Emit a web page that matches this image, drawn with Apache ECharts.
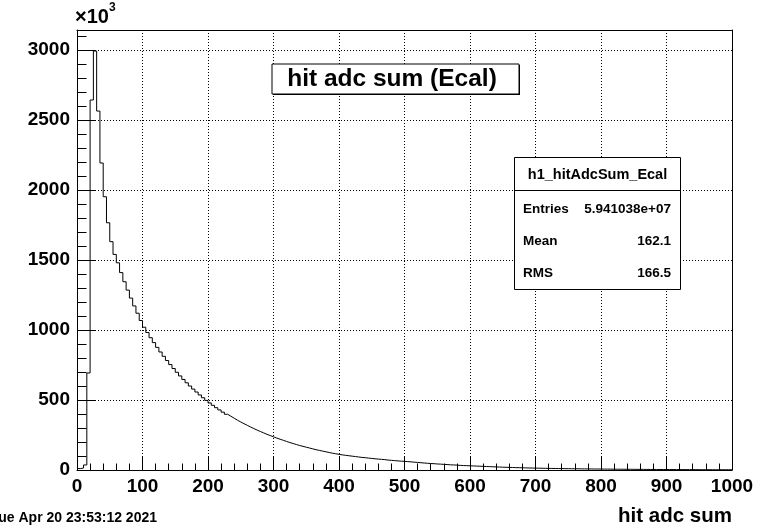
<!DOCTYPE html>
<html>
<head>
<meta charset="utf-8">
<script src="https://cdn.jsdelivr.net/npm/echarts@6/dist/echarts.min.js"></script>
<style>
  html, body { margin: 0; padding: 0; background: #fff; }
  #chart { width: 757px; height: 528px; }
</style>
</head>
<body>
<div id="chart"></div>
<script>
// Histogram h1_hitAdcSum_Ecal: 200 bins of width 5 over [0, 1000).
// Bin contents in units of 10^3 entries.
const binWidth = 5;
const binCounts = [
  10, 14, 36, 693, 2643, 2993, 2564, 2193, 1952, 1766,
  1631, 1540, 1480, 1410, 1345, 1285, 1228, 1172, 1120, 1068,
  1020, 982, 945, 910, 876, 843, 812, 782, 753, 725,
  698, 672, 647, 623, 600, 578, 557, 536, 516, 497,
  479, 462, 445, 429, 413, 398, 384, 370, 356, 343,
  331, 319, 307, 296, 285, 275, 265, 255, 246, 237,
  228, 220, 212, 204, 196, 189, 182, 175, 169, 163,
  157, 151, 145, 140, 135, 130, 125, 120, 116, 112,
  108, 105, 102, 99, 96, 93, 90, 88, 85, 83,
  80, 78, 76, 74, 71, 69, 67, 65, 63, 62,
  60, 58, 56, 54, 52, 50, 48, 46, 45, 43,
  42, 40, 39, 37, 36, 35, 33, 32, 31, 30,
  29, 28, 27, 26, 25, 24, 23, 22, 21, 20,
  19.5, 18.5, 18, 17, 16.5, 16, 15, 14.5, 14, 13.5,
  13, 12.5, 12, 11.6, 11.2, 10.8, 10.4, 10, 9.7, 9.4,
  9.1, 8.8, 8.5, 8.2, 7.9, 7.6, 7.4, 7.1, 6.9, 6.7,
  6.5, 6.3, 6.1, 5.9, 5.7, 5.5, 5.3, 5.1, 5.0, 4.8,
  4.6, 4.5, 4.3, 4.2, 4.0, 3.9, 3.8, 3.6, 3.5, 3.4,
  3.3, 3.2, 3.1, 3.0, 2.9, 2.8, 2.7, 2.6, 2.5, 2.4,
  2.3, 2.2, 2.2, 2.1, 2.0, 2.0, 1.9, 1.8, 1.8, 1.7
];
const xRange = [0, 1000];
const yMax = 3143;
const xTickLabels = ['0', '100', '200', '300', '400', '500', '600', '700', '800', '900', '1000'];
const yTickLabels = ['0', '500', '1000', '1500', '2000', '2500', '3000'];

const histTitle = 'hit adc sum (Ecal)';
const statsName = 'h1_hitAdcSum_Ecal';
const statsRows = [
  ['Entries', '5.941038e+07'],
  ['Mean', '162.1'],
  ['RMS', '166.5']
];
const xTitle = 'hit adc sum';
const dateStamp = 'Tue Apr 20 23:53:12 2021';

// Step line through the lower edge of each bin, closed at the upper range limit.
const stepPoints = binCounts.map((v, i) => [i * binWidth, v]);
stepPoints.push([xRange[1], binCounts[binCounts.length - 1]]);

const FONT = '"Liberation Sans", Arial, Helvetica, sans-serif';
const chart = echarts.init(document.getElementById('chart'), null, { renderer: 'canvas' });

// fresh style objects for every component
const dotted = () => ({ color: '#000', width: 1, type: [1, 2] });
const solid = () => ({ color: '#000', width: 1 });

const option = {
  backgroundColor: '#fff',
  animation: false,
  grid: { left: 77, right: 25, top: 30, bottom: 58 },
  xAxis: [
    {
      type: 'value', min: xRange[0], max: xRange[1], interval: 100, position: 'bottom',
      axisLine: { show: true, onZero: false, lineStyle: solid() },
      axisTick: { show: true, inside: true, length: 13, lineStyle: solid() },
      minorTick: { show: true, splitNumber: 5, length: 6.5, lineStyle: solid() },
      splitLine: { show: true, lineStyle: dotted() },
      axisLabel: {
        show: true, color: '#000', fontFamily: FONT, fontWeight: 'bold', fontSize: 19, margin: 7,
        formatter: v => {
          const k = Math.round(v / 100);
          return (Math.abs(v - k * 100) < 1e-6 && xTickLabels[k] !== undefined) ? xTickLabels[k] : '';
        }
      }
    },
    {
      // upper frame edge
      type: 'value', min: xRange[0], max: xRange[1], position: 'top',
      axisLine: { show: true, onZero: false, lineStyle: solid() },
      axisTick: { show: false }, splitLine: { show: false }, axisLabel: { show: false }
    }
  ],
  yAxis: [
    {
      type: 'value', min: 0, max: yMax, interval: 500, position: 'left',
      axisLine: { show: true, onZero: false, lineStyle: solid() },
      axisTick: { show: true, inside: true, length: 19, lineStyle: solid() },
      splitLine: { show: true, lineStyle: dotted() },
      axisLabel: {
        show: true, color: '#000', fontFamily: FONT, fontWeight: 'bold', fontSize: 19, margin: 7,
        showMaxLabel: false,
        formatter: v => {
          const k = Math.round(v / 500);
          return (Math.abs(v - k * 500) < 1e-6 && yTickLabels[k] !== undefined) ? yTickLabels[k] : '';
        }
      }
    },
    {
      // minor ticks every 100 (x10^3)
      type: 'value', min: 0, max: yMax, interval: 100, position: 'left', offset: 0,
      axisLine: { show: false },
      axisTick: { show: true, inside: true, length: 9.5, lineStyle: solid() },
      splitLine: { show: false },
      axisLabel: { show: false }
    },
    {
      // right frame edge
      type: 'value', min: 0, max: yMax, position: 'right',
      axisLine: { show: true, onZero: false, lineStyle: solid() },
      axisTick: { show: false }, splitLine: { show: false }, axisLabel: { show: false }
    }
  ],
  series: [
    {
      type: 'line',
      step: 'end',
      data: stepPoints,
      xAxisIndex: 0,
      yAxisIndex: 0,
      symbol: 'none',
      lineStyle: { color: '#000', width: 1 },
      z: 3
    }
  ],
  graphic: [
    // exponent above the y axis
    {
      type: 'text', left: 75, top: 2, z: 10,
      style: {
        text: '{b|\u00d710}{s|3}',
        rich: {
          b: { fontFamily: FONT, fontWeight: 'bold', fontSize: 20, fill: '#000', verticalAlign: 'bottom', lineHeight: 25 },
          s: { fontFamily: FONT, fontWeight: 'bold', fontSize: 12, fill: '#000', verticalAlign: 'top', lineHeight: 25, padding: [0, 0, 10, 0] }
        }
      }
    },
    // title box with its shadow
    { type: 'rect', z: 9, shape: { x: 273, y: 65, width: 247, height: 30 }, style: { fill: '#000' } },
    { type: 'rect', z: 10, shape: { x: 272, y: 64, width: 247, height: 30 }, style: { fill: '#fff', stroke: '#000', lineWidth: 1 } },
    {
      type: 'text', z: 11, x: 392, y: 79,
      style: { text: histTitle, fontFamily: FONT, fontWeight: 'bold', fontSize: 24.5, fill: '#000', align: 'center', verticalAlign: 'middle' }
    },
    // statistics box
    { type: 'rect', z: 10, shape: { x: 514.5, y: 157.5, width: 166, height: 132 }, style: { fill: '#fff', stroke: '#000', lineWidth: 1 } },
    { type: 'line', z: 11, shape: { x1: 514.5, y1: 190.5, x2: 680.5, y2: 190.5 }, style: { stroke: '#000', lineWidth: 1 } },
    {
      type: 'text', z: 11, x: 597.5, y: 175,
      style: { text: statsName, fontFamily: FONT, fontWeight: 'bold', fontSize: 14.5, fill: '#000', align: 'center', verticalAlign: 'middle' }
    },
    ...statsRows.flatMap((row, i) => {
      const y = 209 + i * 32;
      return [
        { type: 'text', z: 11, x: 523, y: y, style: { text: row[0], fontFamily: FONT, fontWeight: 'bold', fontSize: 13.5, fill: '#000', align: 'left', verticalAlign: 'middle' } },
        { type: 'text', z: 11, x: 671, y: y, style: { text: row[1], fontFamily: FONT, fontWeight: 'bold', fontSize: 13.5, fill: '#000', align: 'right', verticalAlign: 'middle' } }
      ];
    }),
    // x axis title
    {
      type: 'text', z: 11, x: 732, y: 516,
      style: { text: xTitle, fontFamily: FONT, fontWeight: 'bold', fontSize: 20.5, fill: '#000', align: 'right', verticalAlign: 'middle' }
    },
    // date stamp
    {
      type: 'text', z: 11, x: 157, y: 518.5,
      style: { text: dateStamp, fontFamily: FONT, fontWeight: 'bold', fontSize: 14, fill: '#000', align: 'right', verticalAlign: 'middle' }
    }
  ]
};

chart.setOption(option);
</script>
</body>
</html>
